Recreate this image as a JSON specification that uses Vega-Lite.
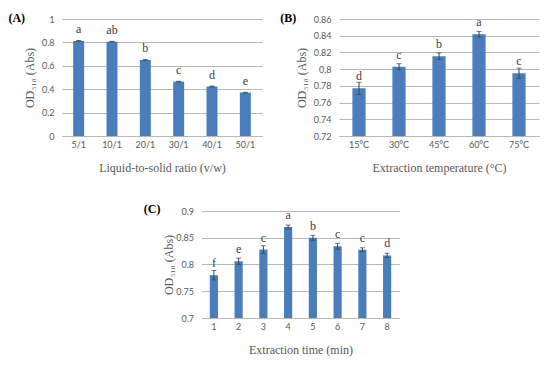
{
  "$schema": "https://vega.github.io/schema/vega-lite/v6.json",
  "padding": {"left": 8, "top": 12, "right": 5, "bottom": 5},
  "background": "white",
  "config": {
    "view": {"stroke": null},
    "font": "Liberation Serif",
    "axis": {
      "labelFont": "Lato", "labelFontSize": 9, "labelColor": "#595959",
      "titleFont": "Liberation Serif", "titleFontSize": 12, "titleColor": "#595959", "titleFontWeight": "normal",
      "ticks": false, "gridColor": "#b8b8b8", "gridWidth": 1, "gridOpacity": 1, "domainColor": "#b8b8b8", "domainWidth": 1
    },
    "axisY": {"domain": false, "grid": true, "labelPadding": 8, "titlePadding": 5, "labelOverlap": false},
    "axisX": {"grid": false, "domain": true, "labelAngle": 0, "labelPadding": 4, "titlePadding": 13},
    "title": {"font": "Liberation Serif", "fontSize": 12, "fontWeight": "bold", "color": "#000000", "anchor": "start", "frame": "bounds", "offset": 0}
  },
  "vconcat": [
    {
      "spacing": 18,
      "hconcat": [
        {
          "width": 200, "height": 117,
          "title": {"text": "(A)", "dx": -15, "dy": 14},
          "data": {"values": [
            {"ratio": "5/1", "od": 0.813, "err": 0.003, "letter": "a"},
            {"ratio": "10/1", "od": 0.806, "err": 0.003, "letter": "ab"},
            {"ratio": "20/1", "od": 0.650, "err": 0.003, "letter": "b"},
            {"ratio": "30/1", "od": 0.465, "err": 0.003, "letter": "c"},
            {"ratio": "40/1", "od": 0.423, "err": 0.003, "letter": "d"},
            {"ratio": "50/1", "od": 0.371, "err": 0.003, "letter": "e"}
          ]},
          "encoding": {
            "x": {"field": "ratio", "type": "nominal", "sort": null, "scale": {"paddingInner": 0.67, "paddingOuter": 0.335}, "axis": {"title": "Liquid-to-solid ratio (v/w)"}},
            "y": {"field": "od", "type": "quantitative", "title": "OD₃₁₈ (Abs)", "scale": {"domain": [0, 1]}, "axis": {"values": [0, 0.2, 0.4, 0.6, 0.8, 1], "format": "~g", "grid": true}}
          },
          "layer": [
            {"mark": {"type": "bar", "color": "#4a7ebb"}},
            {"mark": {"type": "errorbar", "ticks": {"size": 5}, "color": "#404040", "thickness": 1},
             "encoding": {"yError": {"field": "err"}}},
            {"mark": {"type": "text", "font": "Liberation Serif", "fontSize": 12, "color": "#404040", "baseline": "alphabetic", "dy": -8},
             "encoding": {"text": {"field": "letter"}}}
          ]
        },
        {
          "width": 200, "height": 117,
          "title": {"text": "(B)", "dx": -15, "dy": 14},
          "data": {"values": [
            {"temp": "15°C", "od": 0.777, "err": 0.0072, "letter": "d"},
            {"temp": "30°C", "od": 0.803, "err": 0.0035, "letter": "c"},
            {"temp": "45°C", "od": 0.8155, "err": 0.0038, "letter": "b"},
            {"temp": "60°C", "od": 0.8418, "err": 0.0034, "letter": "a"},
            {"temp": "75°C", "od": 0.7952, "err": 0.006, "letter": "c"}
          ]},
          "encoding": {
            "x": {"field": "temp", "type": "nominal", "sort": null, "scale": {"paddingInner": 0.67, "paddingOuter": 0.335}, "axis": {"title": "Extraction temperature (°C)"}},
            "y": {"field": "od", "type": "quantitative", "title": "OD₃₁₈ (Abs)", "scale": {"domain": [0.72, 0.86], "zero": false}, "axis": {"values": [0.72, 0.74, 0.76, 0.78, 0.8, 0.82, 0.84, 0.86], "format": "~g", "grid": true}}
          },
          "layer": [
            {"mark": {"type": "bar", "color": "#4a7ebb", "clip": true}},
            {"mark": {"type": "errorbar", "ticks": {"size": 5}, "color": "#404040", "thickness": 1},
             "encoding": {"yError": {"field": "err"}}},
            {"mark": {"type": "text", "font": "Liberation Serif", "fontSize": 12, "color": "#404040", "baseline": "alphabetic", "dy": -8},
             "encoding": {"text": {"field": "letter"}}}
          ]
        }
      ]
    },
    {
      "width": 198, "height": 107,
      "title": {"text": "(C)", "dx": -19, "dy": 13},
      "data": {"values": [
        {"time": "1", "od": 0.780, "err": 0.0088, "letter": "f"},
        {"time": "2", "od": 0.806, "err": 0.006, "letter": "e"},
        {"time": "3", "od": 0.828, "err": 0.007, "letter": "c"},
        {"time": "4", "od": 0.870, "err": 0.0038, "letter": "a"},
        {"time": "5", "od": 0.850, "err": 0.0047, "letter": "b"},
        {"time": "6", "od": 0.834, "err": 0.0056, "letter": "c"},
        {"time": "7", "od": 0.8275, "err": 0.0038, "letter": "c"},
        {"time": "8", "od": 0.817, "err": 0.004, "letter": "d"}
      ]},
      "encoding": {
        "x": {"field": "time", "type": "nominal", "sort": null, "scale": {"paddingInner": 0.67, "paddingOuter": 0.335}, "axis": {"title": "Extraction time (min)"}},
        "y": {"field": "od", "type": "quantitative", "title": "OD₃₁₈ (Abs)", "scale": {"domain": [0.7, 0.9], "zero": false}, "axis": {"values": [0.7, 0.75, 0.8, 0.85, 0.9], "format": "~g", "grid": true, "titlePadding": 0}}
      },
      "layer": [
        {"mark": {"type": "bar", "color": "#4a7ebb", "clip": true}},
        {"mark": {"type": "errorbar", "ticks": {"size": 5}, "color": "#404040", "thickness": 1},
         "encoding": {"yError": {"field": "err"}}},
        {"mark": {"type": "text", "font": "Liberation Serif", "fontSize": 12, "color": "#404040", "baseline": "alphabetic", "dy": -8},
         "encoding": {"text": {"field": "letter"}}}
      ]
    }
  ],
  "center": true,
  "spacing": 30
}
